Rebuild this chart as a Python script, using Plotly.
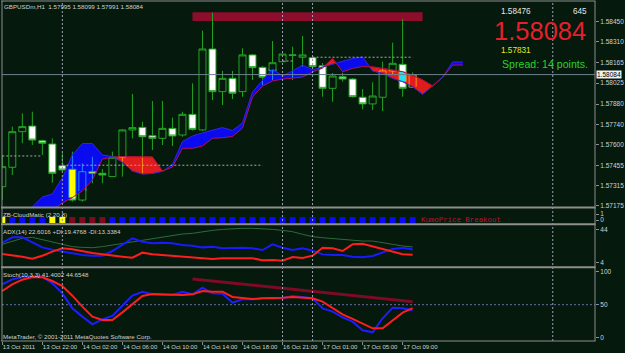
import plotly.graph_objects as go

# ---------------- data ----------------
symbol_header = "GBPUSDm,H1  1.57995 1.58099 1.57991 1.58084"
time_labels = ["13 Oct 2011", "13 Oct 22:00", "14 Oct 02:00", "14 Oct 06:00", "14 Oct 10:00",
               "14 Oct 14:00", "14 Oct 18:00", "16 Oct 21:00", "17 Oct 01:00", "17 Oct 05:00",
               "17 Oct 09:00"]
time_label_bars = [0, 4, 8, 12, 16, 20, 24, 28, 32, 36, 40]
day_separator_bars = [6, 28, 31, 55]

opens = [1.57308, 1.57443, 1.57689, 1.57728, 1.57627, 1.57604, 1.57454, 1.57429, 1.57216, 1.57412,
         1.57401, 1.57378, 1.57512, 1.57701, 1.57719, 1.57661, 1.57643, 1.57712, 1.57666, 1.57809,
         1.57701, 1.58261, 1.57966, 1.58058, 1.57966, 1.58220, 1.58134, 1.58111, 1.58173, 1.58216,
         1.58204, 1.58201, 1.58145, 1.57989, 1.58069, 1.58053, 1.57927, 1.57881, 1.57927, 1.58109,
         1.58155, 1.57995]
highs = [1.57528, 1.57724, 1.57816, 1.57827, 1.57635, 1.57643, 1.57539, 1.57551, 1.57470, 1.57516,
         1.57431, 1.57551, 1.57708, 1.57950, 1.57758, 1.57901, 1.57901, 1.57786, 1.57827, 1.58024,
         1.58388, 1.58512, 1.58109, 1.58109, 1.58266, 1.58226, 1.58143, 1.58316, 1.58230, 1.58277,
         1.58351, 1.58206, 1.58164, 1.58095, 1.58097, 1.58060, 1.57984, 1.58031, 1.58173, 1.58305,
         1.58469, 1.58099]
lows = [1.57216, 1.57389, 1.57609, 1.57597, 1.57528, 1.57336, 1.57410, 1.57205, 1.57205, 1.57332,
        1.57332, 1.57375, 1.57378, 1.57643, 1.57401, 1.57562, 1.57597, 1.57590, 1.57654, 1.57697,
        1.57694, 1.57908, 1.57874, 1.57915, 1.57931, 1.58047, 1.58012, 1.58047, 1.58171, 1.58047,
        1.58139, 1.58137, 1.57931, 1.57896, 1.58035, 1.57925, 1.57844, 1.57839, 1.57832, 1.58081,
        1.57931, 1.57991]
closes = [1.57447, 1.57689, 1.57724, 1.57631, 1.57609, 1.57401, 1.57424, 1.57216, 1.57412, 1.57401,
          1.57389, 1.57512, 1.57701, 1.57717, 1.57654, 1.57643, 1.57712, 1.57659, 1.57809, 1.57705,
          1.58261, 1.57966, 1.58058, 1.57955, 1.58220, 1.58132, 1.58065, 1.58166, 1.58226, 1.58220,
          1.58220, 1.58139, 1.57989, 1.58074, 1.58053, 1.57931, 1.57881, 1.57936, 1.58109, 1.58162,
          1.57989, 1.58084]
bars = list(range(len(opens)))

cloud_bars = list(range(2, 47))
span_a = [1.57126, 1.57168, 1.57237, 1.57258, 1.57369, 1.57528, 1.57607, 1.57607, 1.57528, 1.57517,
          1.57479, 1.57417, 1.57396, 1.57400, 1.57414, 1.57462, 1.57621, 1.57659, 1.57680, 1.57701,
          1.57717, 1.57697, 1.57749, 1.57964, 1.58047, 1.58123, 1.58074, 1.58109, 1.58150, 1.58116,
          1.58136, 1.58157, 1.58178, 1.58195, 1.58206, 1.58109, 1.58092, 1.58058, 1.58035, 1.58000,
          1.57948, 1.58005, 1.58067, 1.58171, 1.58171]
span_b = [1.57044, 1.57092, 1.57120, 1.57147, 1.57196, 1.57234, 1.57279, 1.57355, 1.57500, 1.57512,
          1.57516, 1.57516, 1.57516, 1.57514, 1.57417, 1.57445, 1.57574, 1.57574, 1.57590, 1.57643,
          1.57647, 1.57656, 1.57714, 1.57929, 1.58005, 1.58040, 1.58053, 1.58060, 1.58067, 1.58102,
          1.58130, 1.58195, 1.58104, 1.58127, 1.58140, 1.58137, 1.58126, 1.58116, 1.58104, 1.58078,
          1.58047, 1.58005, 1.58064, 1.58150, 1.58150]

level_prices = [1.57521, 1.57457, 1.58204, 1.58178]
level_from = [0, 6, 31, 28]
level_to = [4, 26, 41, 29]

zone_bars = [19, 42]
zone_prices = [1.58455, 1.58515]

price_ticks = [1.58450, 1.58310, 1.58165, 1.58025, 1.57880, 1.57740, 1.57600, 1.57455, 1.57315, 1.57175]

cloudmatic_state = [0, 1, 1, 1, 1, 0, 0, -1, -1, -1, -1, 1, 1, 1, 1, 1, 1, 1, 1, 1, 1,
                    1, 1, 1, 1, 1, 1, 1, 1, 1, 1, 1, 1, 1, 1, 1, 1, 1, 1, 1, 1, 1]

adx_main = [25.8, 29.8, 33.1, 34.3, 31.4, 28.2, 25.0, 23.0, 22.1, 21.7, 23.0, 25.0, 27.0, 29.0,
            31.0, 33.1, 34.7, 36.7, 38.3, 39.1, 41.1, 42.7, 43.9, 44.8, 45.2, 45.2, 44.8, 43.9,
            42.7, 41.1, 37.9, 35.1, 33.8, 32.6, 31.4, 30.2, 29.8, 29.8, 28.2, 25.8, 23.8, 22.6]
plus_di = [27.8, 34.3, 34.3, 28.6, 22.1, 19.3, 16.9, 14.9, 12.9, 12.0, 12.0, 17.7, 25.8, 33.0,
           29.0, 27.0, 27.8, 27.0, 25.0, 24.1, 22.1, 22.9, 20.9, 21.3, 21.7, 20.9, 18.9, 25.8,
           21.7, 18.9, 20.9, 18.1, 13.6, 12.9, 12.9, 10.8, 10.0, 11.6, 15.7, 20.1, 21.7, 19.5]
minus_di = [14.1, 12.9, 10.8, 8.4, 12.0, 16.9, 20.9, 19.7, 17.3, 15.3, 13.7, 12.0, 10.8, 9.6,
            15.7, 13.7, 12.9, 11.6, 10.8, 10.0, 8.8, 8.0, 8.8, 8.8, 8.0, 8.8, 6.4, 6.8,
            6.0, 10.4, 9.2, 12.0, 21.7, 20.9, 17.7, 25.8, 26.6, 23.3, 20.1, 16.9, 13.7, 13.3]

stoch_k = [80.9, 88.4, 92.0, 93.5, 92.5, 82.4, 67.2, 44.5, 31.9, 20.3, 27.8, 32.9, 48.5, 63.7,
           69.7, 65.7, 64.7, 64.7, 69.7, 65.7, 75.8, 67.2, 66.7, 53.1, 58.1, 58.1, 59.7, 59.7,
           59.7, 63.2, 61.2, 59.7, 44.5, 39.5, 30.9, 24.3, 11.2, 8.2, 29.4, 45.5, 44.5, 41.4]
stoch_d = [70.8, 80.9, 87.9, 92.0, 91.5, 85.9, 78.3, 63.7, 47.0, 31.9, 26.8, 26.8, 38.4, 50.6,
           63.2, 66.2, 65.7, 64.7, 64.7, 65.7, 70.8, 69.7, 69.7, 61.7, 59.7, 58.6, 59.7, 59.7,
           60.6, 61.7, 61.2, 59.7, 54.6, 45.5, 35.4, 28.4, 20.8, 14.2, 14.2, 25.8, 37.9, 44.7]
stoch_trend_bars = [19, 41]
stoch_trend_vals = [89.0, 54.5]
stoch_level = 50

day_high = 1.58476
day_low = 1.57831
bar_countdown = 645
spread_points = 14

# ---------------- style ----------------
W, H = 625, 353
ML, MR, MT, MB = 2, 24, 1, 12
BG = "#05190C"
FRAME = "#8E8E8E"
TEXT = "#D2D2D2"
GREEN = "#23A523"
CLOUD_BLUE = "#0B0BF0"
CLOUD_RED = "#E01C1C"
FONT = "Liberation Sans"


def px(x):
    return (x - ML) / (W - ML - MR)


def py(y):
    return (H - MB - y) / (H - MT - MB)


fig = go.Figure()

# ---- cloud fill ----
poly = {True: ([], []), False: ([], [])}


def add_poly(xs, ys, blue):
    tx, ty = poly[blue]
    tx.extend(xs + [xs[0], None])
    ty.extend(ys + [ys[0], None])


for k in range(len(cloud_bars) - 1):
    x0, x1 = cloud_bars[k], cloud_bars[k + 1]
    a0, a1, b0, b1 = span_a[k], span_a[k + 1], span_b[k], span_b[k + 1]
    d0, d1 = a0 - b0, a1 - b1
    if d0 * d1 < 0:
        t = d0 / (d0 - d1)
        xc = x0 + t * (x1 - x0)
        yc = a0 + t * (a1 - a0)
        add_poly([x0, xc, x0], [a0, yc, b0], d0 > 0)
        add_poly([xc, x1, x1], [yc, a1, b1], d1 > 0)
    else:
        add_poly([x0, x1, x1, x0], [a0, a1, b1, b0], (d0 if d0 != 0 else d1) >= 0)

for blue, col in ((True, CLOUD_BLUE), (False, CLOUD_RED)):
    fig.add_trace(go.Scatter(x=poly[blue][0], y=poly[blue][1], fill="toself", fillcolor=col,
                             mode="lines", line=dict(color=col, width=0.6),
                             hoverinfo="skip", xaxis="x", yaxis="y"))

# ---- candles ----
fig.add_trace(go.Candlestick(
    x=bars, open=opens, high=highs, low=lows, close=closes,
    increasing=dict(line=dict(color=GREEN, width=1), fillcolor="rgba(0,0,0,0)"),
    decreasing=dict(line=dict(color=GREEN, width=1), fillcolor="#FFFFFF"),
    whiskerwidth=0, hoverinfo="skip", xaxis="x", yaxis="y"))

# ---- XOR-like overlay where candles cross the cloud ----
half = 0.35
xfill = {True: ([], []), False: ([], [])}
xline = {True: ([], []), False: ([], [])}
for i in bars:
    k = i - cloud_bars[0]
    if k < 0 or k >= len(cloud_bars):
        continue
    a, b = span_a[k], span_b[k]
    lo, hi = min(a, b), max(a, b)
    blue = a >= b
    o, h, l, c = opens[i], highs[i], lows[i], closes[i]
    bt, bb = max(o, c), min(o, c)
    fx, fy = xfill[blue]
    lx, ly = xline[blue]
    ob, ot = max(bb, lo), min(bt, hi)
    if ot > ob:
        if c < o:
            fx += [i - half, i + half, i + half, i - half, i - half, None]
            fy += [ob, ob, ot, ot, ob, None]
        for xs in (i - half, i + half):
            lx += [xs, xs, None]
            ly += [ob, ot, None]
    for wb, wt in ((bt, h), (l, bb)):
        s, e = max(wb, lo), min(wt, hi)
        if e > s:
            lx += [i, i, None]
            ly += [s, e, None]
    for edge in (bt, bb):
        if lo <= edge <= hi:
            lx += [i - half, i + half, None]
            ly += [edge, edge, None]

for blue, fcol, lcol in ((True, "#FFFF00", "#1E8CFF"), (False, "#22E2F2", "#FF8C1A")):
    fig.add_trace(go.Scatter(x=xfill[blue][0], y=xfill[blue][1], fill="toself", fillcolor=fcol,
                             mode="lines", line=dict(width=0), hoverinfo="skip",
                             xaxis="x", yaxis="y"))
    fig.add_trace(go.Scatter(x=xline[blue][0], y=xline[blue][1], mode="lines",
                             line=dict(color=lcol, width=1), hoverinfo="skip",
                             xaxis="x", yaxis="y"))

# ---- cloud boundary lines ----
fig.add_trace(go.Scatter(x=cloud_bars, y=span_a, mode="lines", line=dict(color="#3426D8", width=1),
                         hoverinfo="skip", xaxis="x", yaxis="y"))
fig.add_trace(go.Scatter(x=cloud_bars, y=span_b, mode="lines", line=dict(color="#B0123C", width=1),
                         hoverinfo="skip", xaxis="x", yaxis="y"))

# ---- dotted level lines ----
lvx, lvy = [], []
for p, a0, a1 in zip(level_prices, level_from, level_to):
    lvx += [a0, a1, None]
    lvy += [p, p, None]
fig.add_trace(go.Scatter(x=lvx, y=lvy, mode="lines", line=dict(color="#A8A8A8", width=1, dash="2px,2px"),
                         hoverinfo="skip", xaxis="x", yaxis="y"))

# ---- CloudMatic squares ----
state_color = {1: "#0A0AF5", 0: "#FFFF00", -1: "#7E0A22"}
fig.add_trace(go.Scatter(x=bars, y=[0] * len(bars), mode="markers",
                         marker=dict(symbol="square", size=6,
                                     color=[state_color[s] for s in cloudmatic_state],
                                     line=dict(width=0)),
                         hoverinfo="skip", xaxis="x", yaxis="y2"))

# ---- ADX ----
fig.add_trace(go.Scatter(x=bars, y=adx_main, mode="lines", line=dict(color="#2E6B3A", width=1),
                         hoverinfo="skip", xaxis="x", yaxis="y3"))
fig.add_trace(go.Scatter(x=bars, y=plus_di, mode="lines", line=dict(color="#1A1AFF", width=2),
                         hoverinfo="skip", xaxis="x", yaxis="y3"))
fig.add_trace(go.Scatter(x=bars, y=minus_di, mode="lines", line=dict(color="#FF1E1E", width=2),
                         hoverinfo="skip", xaxis="x", yaxis="y3"))

# ---- Stochastic ----
fig.add_trace(go.Scatter(x=stoch_trend_bars, y=stoch_trend_vals, mode="lines",
                         line=dict(color="#7D0A26", width=3), hoverinfo="skip", xaxis="x", yaxis="y4"))
fig.add_trace(go.Scatter(x=bars, y=stoch_k, mode="lines", line=dict(color="#1E1EFF", width=2),
                         hoverinfo="skip", xaxis="x", yaxis="y4"))
fig.add_trace(go.Scatter(x=bars, y=stoch_d, mode="lines", line=dict(color="#FF1E1E", width=2),
                         hoverinfo="skip", xaxis="x", yaxis="y4"))

# ---------------- shapes ----------------
shapes = []
shapes.append(dict(type="rect", xref="x", yref="y", x0=zone_bars[0], x1=zone_bars[1],
                   y0=zone_prices[0], y1=zone_prices[1], fillcolor="#8C0E2C",
                   line=dict(width=0), layer="below"))
shapes.append(dict(type="line", xref="paper", yref="y", x0=0, x1=1, y0=closes[-1], y1=closes[-1],
                   line=dict(color="#6F7F90", width=1), layer="above"))
shapes.append(dict(type="line", xref="paper", yref="y4", x0=0, x1=1, y0=stoch_level, y1=stoch_level,
                   line=dict(color="#6A6AA8", width=1, dash="2px,2px"), layer="below"))
for s in day_separator_bars:
    shapes.append(dict(type="line", xref="x", yref="paper", x0=s, x1=s, y0=0, y1=1,
                       line=dict(color="#A0A0B4", width=1, dash="2px,2px"), layer="above"))
for yy, wdt in ((1, 1), (207.5, 2), (224.2, 2), (267.2, 2), (341, 1)):
    shapes.append(dict(type="line", xref="paper", yref="paper", x0=px(1), x1=px(601.5),
                       y0=py(yy), y1=py(yy), line=dict(color=FRAME, width=wdt), layer="above"))
for xx in (2, 601):
    shapes.append(dict(type="line", xref="paper", yref="paper", x0=px(xx), x1=px(xx),
                       y0=py(341), y1=py(1), line=dict(color=FRAME, width=1), layer="above"))

# ---------------- annotations ----------------
ann = []


def label(x, y, text, size=6.2, color=TEXT, anchor="left", family=FONT):
    ann.append(dict(x=px(x), y=py(y), xref="paper", yref="paper", text=text, showarrow=False,
                    xanchor=anchor, yanchor="middle", font=dict(size=size, color=color, family=family),
                    borderpad=0))


label(3, 6.5, symbol_header)
label(2.5, 214, "ZB-CloudMatic (2,20,8)")
label(424, 220, "KumoPrice Breakout", size=7.4, color="#C0102E", family="Liberation Mono")
label(2.5, 231, "ADX(14) 22.6016 +DI:19.4768 -DI:13.3384")
label(2.5, 274, "Stoch(10,3,3) 41.4002 44.6548")
label(2.5, 336, "MetaTrader, © 2001-2011 MetaQuotes Software Corp.")
label(521, 11.5, f"{day_high:.5f}", size=8.2, color="#E8E8E8", anchor="center")
label(586, 11.5, str(bar_countdown), size=8.2, color="#E8E8E8", anchor="center")
label(545, 31, f"{closes[-1]:.5f}", size=25.5, color="#E6202A", anchor="center")
label(521, 50.5, f"{day_low:.5f}", size=8.2, color="#E8E81E", anchor="center")
label(506, 63.5, f"Spread: {spread_points} points.", size=10.6, color="#2BD22B")
ann.append(dict(x=1, y=closes[-1], xref="paper", yref="y", text=f"{closes[-1]:.5f}", showarrow=False,
                xanchor="left", yanchor="middle", xshift=1, bgcolor="#F0F0F0",
                font=dict(size=6.5, color="#000000", family=FONT), borderpad=0))

# ---------------- layout ----------------
yax = dict(side="right", anchor="x", showgrid=False, zeroline=False, showline=False, ticks="outside",
           ticklen=3, tickcolor=FRAME, tickfont=dict(size=6.5, color=TEXT, family=FONT), fixedrange=True)

fig.update_layout(
    width=W, height=H, margin=dict(l=ML, r=MR, t=MT, b=MB),
    paper_bgcolor=BG, plot_bgcolor=BG, showlegend=False, font=dict(family=FONT, color=TEXT),
    boxgap=0.3, boxgroupgap=0,
    xaxis=dict(domain=[0, 1], anchor="y4", range=[-0.03, 59.22], showgrid=False, zeroline=False,
               showline=False, ticks="outside", ticklen=3, tickcolor=FRAME,
               tickvals=time_label_bars, ticktext=time_labels, ticklabelposition="outside right",
               tickangle=0, tickfont=dict(size=6, color=TEXT, family=FONT),
               rangeslider=dict(visible=False), fixedrange=True),
    yaxis=dict(domain=[py(207), 1], range=[1.57168, 1.58593], tickvals=price_ticks,
               ticktext=[f"{v:.5f}" for v in price_ticks], **yax),
    yaxis2=dict(domain=[py(223.5), py(208.5)], range=[-0.583, 1.917], tickvals=[0, 1],
                ticktext=["0", "1"], **yax),
    yaxis3=dict(domain=[py(266), py(225)], range=[-0.48, 49.21], tickvals=[4, 44],
                ticktext=["4", "44"], **yax),
    yaxis4=dict(domain=[0, py(268)], range=[-5.0, 105.6], tickvals=[0, 50, 100],
                ticktext=["0", "50", "100"], **yax),
    shapes=shapes, annotations=ann,
)

fig.write_html("out.html", config={"displayModeBar": False})
